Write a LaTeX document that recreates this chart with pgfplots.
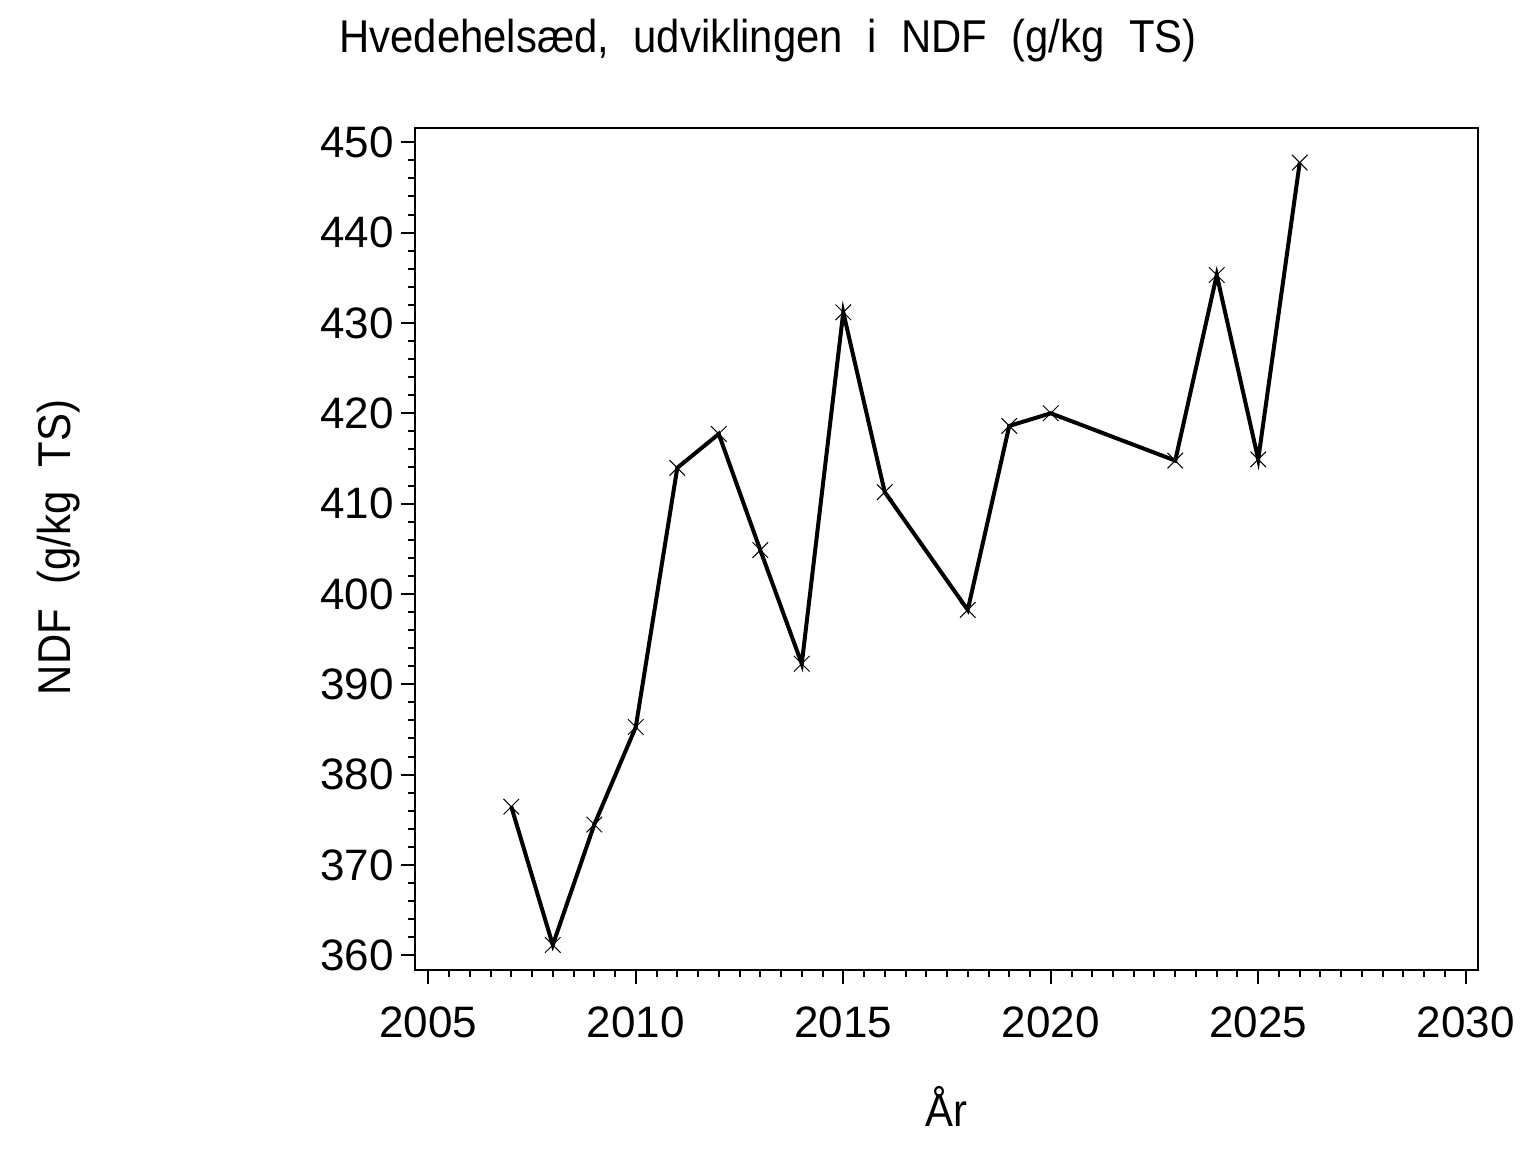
\documentclass[border=0pt]{standalone}
\usepackage{fontspec}
\setmainfont{Liberation Sans}
\newfontfamily\widefont[WordSpace=2.1,FakeStretch=0.91]{Liberation Sans}
\usepackage{pgfplots}
\pgfplotsset{compat=1.18}
\begin{document}
\begin{tikzpicture}[x=1bp,y=1bp]
\path[use as bounding box] (0,0) rectangle (768,576);
\begin{axis}[
  at={(207.65bp,91bp)}, anchor=south west,
  scale only axis, width=531.5bp, height=420.85bp,
  xmin=2004.687, xmax=2030.304, ymin=358.37, ymax=451.55,
  xtick={2005,2010,...,2030}, minor x tick num=9,
  ytick={360,370,...,450}, minor y tick num=4,
  xtick pos=left, ytick pos=left,
  tick align=outside,
  major tick length=7bp, minor tick length=3.5bp,
  every tick/.style={black, line width=1bp},
  axis line style={line width=1bp},
  ticklabel style={font=\fontsize{22bp}{26bp}\selectfont},
  xticklabel style={anchor=north, inner sep=0pt, yshift=-11bp},
  yticklabel style={anchor=east, inner sep=0pt, xshift=-3.5bp},
  /pgf/number format/assume math mode=true,
  /pgf/number format/1000 sep={},
  clip=false,
]
\addplot[black, line width=2bp, mark=x, mark size=5.5bp, mark options={line width=0.5bp}] coordinates {
(2007,376.45) (2008,361.14) (2009,374.47) (2010,385.27) (2011,413.96)
(2012,417.71) (2013,404.86) (2014,392.27) (2015,431.18) (2016,411.27)
(2018,398.23) (2019,418.6) (2020,420.0) (2023,414.76) (2024,435.31)
(2025,414.9) (2026,447.75)
};
\end{axis}
\node[anchor=base, font=\widefont\fontsize{23bp}{28bp}\selectfont] at (384,549.85) {Hvedehelsæd, udviklingen i NDF (g/kg TS)};
\node[rotate=90, anchor=base, font=\widefont\fontsize{23bp}{28bp}\selectfont] at (35,302.25) {NDF (g/kg TS)};
\node[anchor=base, font=\widefont\fontsize{23bp}{28bp}\selectfont] at (473,12.65) {År};
\end{tikzpicture}
\end{document}
